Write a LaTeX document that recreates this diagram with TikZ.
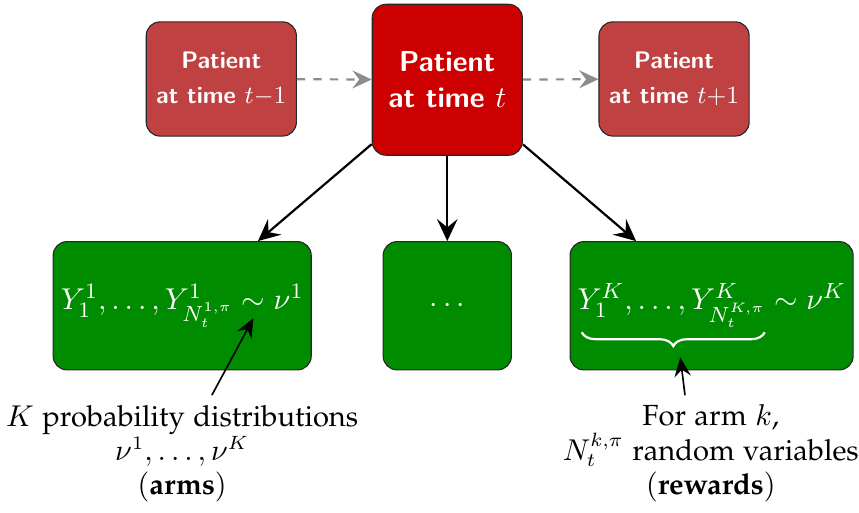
\documentclass[tikz,border=0pt]{standalone}
\usetikzlibrary{arrows.meta,decorations.pathreplacing}

\newcommand{\palfont}{\fontencoding{OT1}\fontfamily{pplx}\selectfont}

\definecolor{pastred}{RGB}{191,65,65}
\definecolor{nowred}{RGB}{204,0,0}
\definecolor{armgreen}{RGB}{0,140,0}

\tikzset{
	patientbox/.style={draw=black!85, rounded corners=5pt, text=white, align=center, inner sep=0pt, font=\sffamily\bfseries},
	sidebox/.style={patientbox, fill=pastred, minimum width=1.92cm, minimum height=1.46cm, font=\sffamily\bfseries\fontsize{8.7}{13}\selectfont},
	nowbox/.style={patientbox, fill=nowred, minimum width=1.92cm, minimum height=1.93cm, font=\sffamily\bfseries\fontsize{10.5}{13}\selectfont},
	armbox/.style={draw=black!85, rounded corners=5pt, fill=armgreen, text=white, minimum height=1.64cm, inner sep=0pt, font=\fontsize{10.8}{13}\selectfont},
	notelabel/.style={align=center, font=\palfont\fontsize{10.6}{12.5}\selectfont},
	bigarrow/.style={-{Stealth[length=8pt,width=7.5pt,inset=3pt]}, thick},
	timearrow/.style={-{Stealth[length=7pt,width=6.5pt,inset=2.5pt]}, thick, dashed, black!45},
	notearrow/.style={-{Stealth[length=7pt,width=6pt,inset=2.5pt]}, semithick}
}

\begin{document}
\begin{tikzpicture}
	\useasboundingbox (0,0) rectangle (10.985,-6.56);
	%top row: patients
		\node[sidebox] (prev) at (2.83,-1.01) {Patient\\at time $t{-}1$};
		\node[nowbox] (now) at (5.72,-1.02) {Patient\\at time $t$};
		\node[sidebox] (next) at (8.62,-1.01) {Patient\\at time $t{+}1$};
	%bottom row: arms
		\node[armbox, minimum width=3.30cm] (arm1) at (2.33,-3.91) {$Y^1_1,\ldots,Y^1_{N_t^{1,\pi}}\sim\nu^1$};
		\node[armbox, minimum width=1.64cm] (armdots) at (5.72,-3.91) {$\cdots$};
		\node[armbox, minimum width=3.62cm] (armK) at (9.10,-3.91) {$Y^K_1,\ldots,Y^K_{N_t^{K,\pi}}\sim\nu^K$};
	%time arrows
		\draw[timearrow] (prev) -- (now);
		\draw[timearrow] (now) -- (next);
	%arm arrows
		\draw[bigarrow] (now) -- (arm1);
		\draw[bigarrow] (now) -- (armdots);
		\draw[bigarrow] (now) -- (armK);
	%brace under the rewards
		\coordinate (bracel) at (7.44,-4.25);
		\coordinate (bracer) at (9.78,-4.25);
		\draw[white, thick, decorate, decoration={brace, mirror, amplitude=5pt}] (bracel) -- (bracer);
		\coordinate (bracetip) at (8.70,-4.57);
		\coordinate (tilde) at (3.24,-4.07);
	%labels
		\node[notelabel] (armslabel) at (2.33,-5.80) {$K$ probability distributions\\$\nu^1,\ldots,\nu^K$\\$($\textbf{arms}$)$};
		\node[notelabel] (rewardslabel) at (9.09,-5.80) {For arm $k$,\\$N_t^{k,\pi}$ random variables\\$($\textbf{rewards}$)$};
		\draw[notearrow] ([xshift=0.38cm]armslabel.north) -- (tilde);
		\draw[notearrow] ([xshift=-0.33cm]rewardslabel.north) -- (bracetip);
\end{tikzpicture}
\end{document}
